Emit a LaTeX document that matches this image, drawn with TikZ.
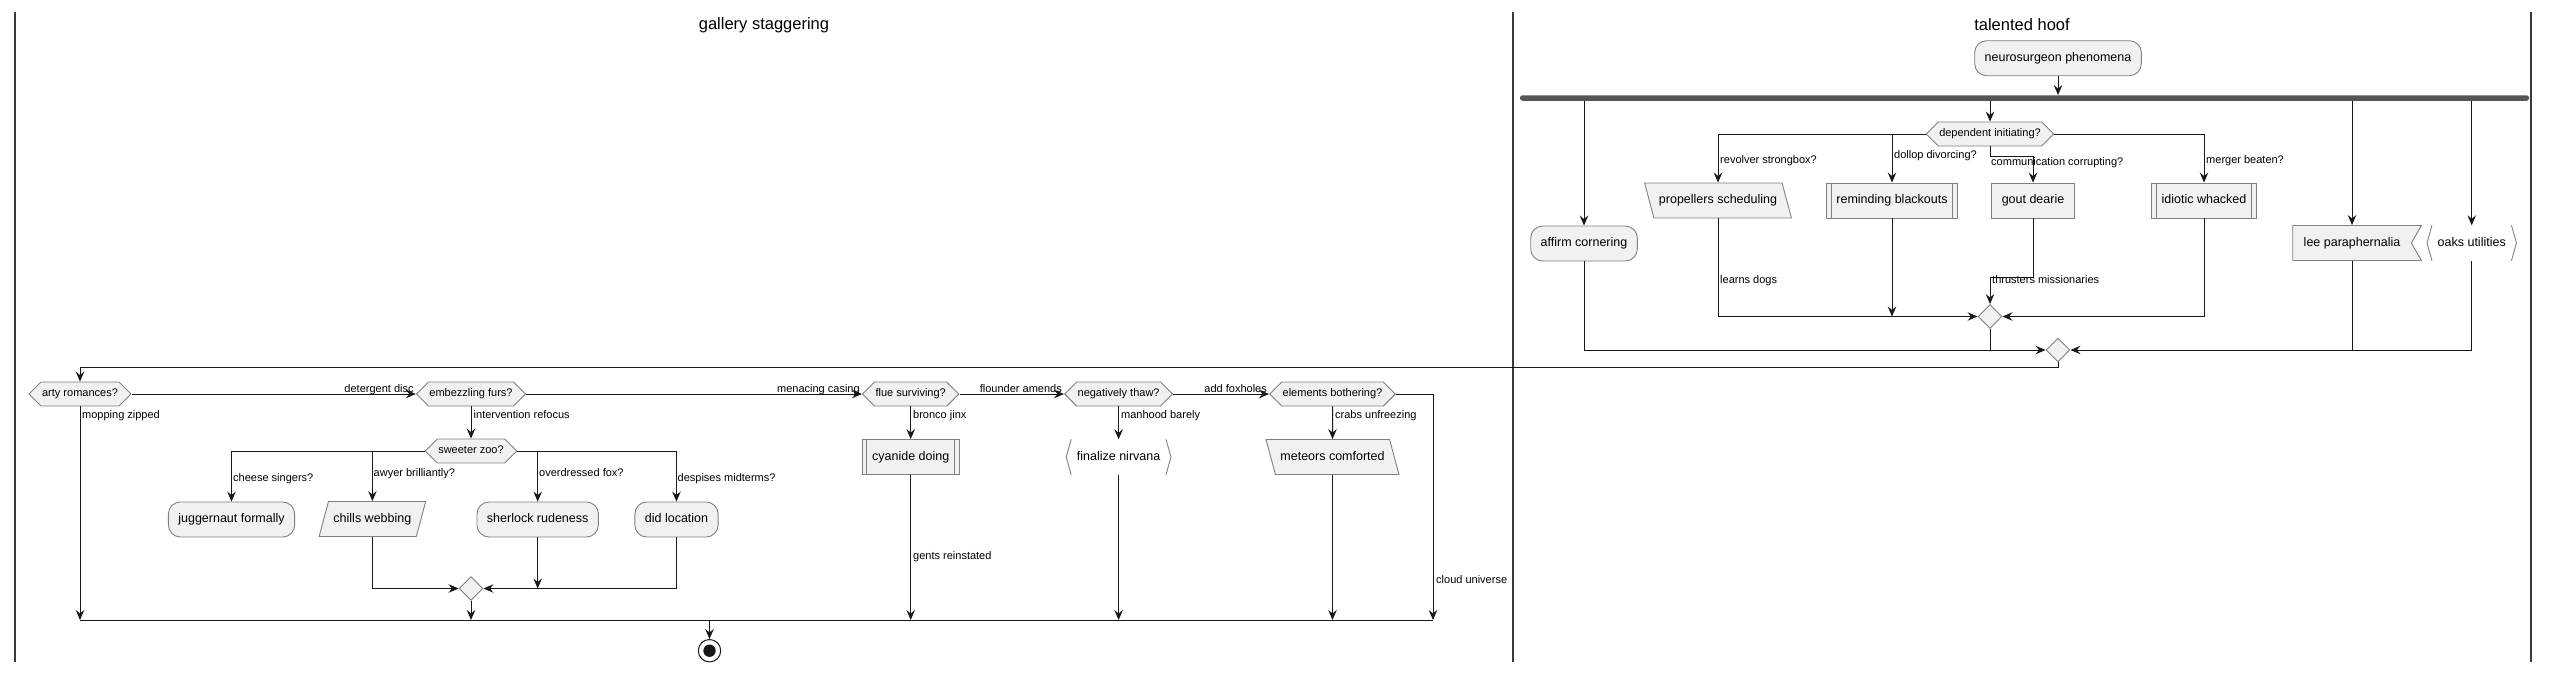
\documentclass[tikz,border=0pt]{standalone}
\usepackage{fontspec}
\setmainfont{Liberation Sans}
\usetikzlibrary{arrows.meta,shapes.geometric,shapes.symbols}
\definecolor{boxfill}{HTML}{F1F1F1}
\definecolor{bdr}{HTML}{808080}
\definecolor{linec}{HTML}{181818}
\definecolor{lanec}{HTML}{3A3A3A}
\definecolor{barc}{HTML}{555555}
\newcommand\myactfont{\fontsize{12.5}{15}\selectfont}
\newcommand\mydecfont{\fontsize{11}{13}\selectfont}
\newcommand\mylblfont{\fontsize{11}{13}\selectfont}
\newcommand\myttlfont{\fontsize{16.5}{20}\selectfont}
\tikzset{
  act/.style={rectangle, rounded corners=12pt, draw=bdr, fill=boxfill, line width=0.9pt,
    font=\myactfont, text height=9.2pt, text depth=2.8pt, inner xsep=10pt, inner ysep=11.5pt},
  plainact/.style={act, sharp corners},
  subproc/.style={plainact, path picture={
    \draw[bdr, line width=0.9pt] ([xshift=4.7pt]path picture bounding box.north west) -- ([xshift=4.7pt]path picture bounding box.south west);
    \draw[bdr, line width=0.9pt] ([xshift=-4.7pt]path picture bounding box.north east) -- ([xshift=-4.7pt]path picture bounding box.south east);}},
  para/.style={trapezium, trapezium left angle=75, trapezium right angle=105, draw=bdr, fill=boxfill,
    line width=0.9pt, font=\myactfont, text height=9.2pt, text depth=2.8pt, inner xsep=5pt, inner ysep=11.5pt},
  paraL/.style={para, trapezium left angle=105, trapezium right angle=75},
  hexa/.style={signal, signal to=east and west, draw=bdr, fill=boxfill, line width=0.9pt,
    font=\mydecfont, text height=8pt, text depth=2.5pt, inner xsep=1pt, inner ysep=6.75pt},
  flagbox/.style={signal, signal to=nowhere, signal from=east, signal pointer angle=120, draw=bdr, fill=boxfill,
    line width=0.9pt, font=\myactfont, text height=9.2pt, text depth=2.8pt, inner xsep=11pt, inner ysep=11.5pt},
  brk/.style={rectangle, fill=white, font=\myactfont, text height=9.2pt, text depth=2.8pt, inner xsep=10.5pt, inner ysep=11.5pt},
  brkline/.style={draw=bdr, line width=0.9pt},
  merge/.style={diamond, draw=bdr, fill=boxfill, line width=0.9pt, minimum width=24pt, minimum height=24pt, inner sep=0pt, aspect=1},
  bar/.style={rectangle, fill=barc, rounded corners=2.5pt, minimum width=1009pt, minimum height=5.5pt, inner sep=0pt},
  endc/.style={circle, draw=linec, line width=1pt, fill=white, minimum size=22.4pt, inner sep=0pt,
    path picture={\fill[linec] (path picture bounding box.center) circle (6.2pt);}},
  arr/.style={draw=linec, line width=1pt, -{Stealth[length=10pt,width=8.5pt,inset=3.5pt]}},
  ln/.style={draw=linec, line width=1pt},
  lbl/.style={font=\mylblfont, inner sep=0pt, anchor=base west},
  lblr/.style={font=\mylblfont, inner sep=0pt, anchor=base east},
  lane/.style={draw=lanec, line width=1.5pt},
  ttl/.style={font=\myttlfont, inner sep=0pt},
}
\begin{document}
\begin{tikzpicture}[x=1pt, y=-1pt]
\useasboundingbox (0,0) rectangle (2551,673);
% swimlanes
\draw[lane] (15,12) -- (15,662);
\draw[lane] (1513,12) -- (1513,662);
\draw[lane] (2531,12) -- (2531,662);
\node[ttl] (t1) at (764,25) {gallery staggering};
\node[ttl] (t2) at (2022,25) {talented hoof};
% right lane
\node[act] (neuro) at (2058,58.2) {neurosurgeon phenomena};
\node[bar] (fork) at (2024.5,98) {};
\node[hexa] (dep) at (1990,134) {dependent initiating?};
\node[paraL] (prop) at (1718,200.5) {propellers scheduling};
\node[subproc] (rem) at (1892,200.5) {reminding blackouts};
\node[plainact] (gout) at (2033,200.5) {gout dearie};
\node[subproc] (idi) at (2204,200.5) {idiotic whacked};
\node[act] (aff) at (1584,243.5) {affirm cornering};
\node[flagbox] (lee) at (2352,243) {lee paraphernalia};
\node[brk] (oaks) at (2471.7,243) {oaks utilities};
\draw[brkline] ([xshift=5pt]oaks.north west) -- (oaks.west) -- ([xshift=5pt]oaks.south west);
\draw[brkline] ([xshift=-5pt]oaks.north east) -- (oaks.east) -- ([xshift=-5pt]oaks.south east);
\node[merge] (m1) at (1990,316.5) {};
\node[merge] (m2) at (2058,350) {};
\coordinate (gc) at (1990,156);
\coordinate (tc) at (2033,277);
\coordinate (loop) at (80,367);
% left lane
\node[hexa] (arty) at (80,394) {arty romances?};
\node[hexa] (emb) at (471,394) {embezzling furs?};
\node[hexa] (flue) at (910.7,394) {flue surviving?};
\node[hexa] (neg) at (1118.6,394) {negatively thaw?};
\node[hexa] (elem) at (1332.5,394) {elements bothering?};
\node[hexa] (sz) at (471,451) {sweeter zoo?};
\node[act] (jug) at (231.5,519.5) {juggernaut formally};
\node[para] (chills) at (372.4,519) {chills webbing};
\node[act] (sher) at (537.7,519.5) {sherlock rudeness};
\node[act] (did) at (676.5,519.5) {did location};
\node[merge] (m3) at (471,588.5) {};
\node[subproc] (cyan) at (910.7,457) {cyanide doing};
\node[brk] (fin) at (1118.6,457) {finalize nirvana};
\draw[brkline] ([xshift=5pt]fin.north west) -- (fin.west) -- ([xshift=5pt]fin.south west);
\draw[brkline] ([xshift=-5pt]fin.north east) -- (fin.east) -- ([xshift=-5pt]fin.south east);
\node[paraL] (met) at (1332.5,457) {meteors comforted};
\node[endc] (end) at (709.5,650.7) {};
\coordinate (botL) at (80,620);
\coordinate (botR) at (1433,620);
\coordinate (cl) at (1433,394);
% right lane connectors
\draw[arr] (neuro.south) -- (neuro.south |- fork.north);
\draw[arr] (fork.south -| aff.north) -- (aff.north);
\draw[arr] (fork.south -| dep.north) -- (dep.north);
\draw[arr] (fork.south -| lee.north) -- (lee.north);
\draw[arr] (fork.south -| oaks.north) -- (oaks.north);
\draw[arr] (dep.west) -| (prop.north);
\draw[arr] (dep.west) -| (rem.north);
\draw[arr] (dep.south) -- (gc) -| (gout.north);
\draw[arr] (dep.east) -| (idi.north);
\draw[arr] (prop.south) |- (m1.west);
\draw[arr] (rem.south) -- (rem.south |- m1.west);
\draw[arr] (gout.south) -- (tc) -| (m1.north);
\draw[arr] (idi.south) |- (m1.east);
\draw[ln] (m1.south) -- (m1.south |- m2.west);
\draw[arr] (aff.south) |- (m2.west);
\draw[ln] (lee.south) -- (lee.south |- m2.west);
\draw[arr] (oaks.south) |- (m2.east);
\draw[arr] (m2.south) -- (m2.south |- loop) -- (loop) -- (arty.north);
% left lane connectors
\draw[arr] (arty.east) -- (emb.west);
\draw[arr] (emb.east) -- (flue.west);
\draw[arr] (flue.east) -- (neg.west);
\draw[arr] (neg.east) -- (elem.west);
\draw[arr] (arty.south) -- (botL);
\draw[arr] (emb.south) -- (sz.north);
\draw[arr] (sz.west) -| (jug.north);
\draw[arr] (sz.west) -| (chills.north);
\draw[arr] (sz.east) -| (sher.north);
\draw[arr] (sz.east) -| (did.north);
\draw[arr] (chills.south) |- (m3.west);
\draw[arr] (sher.south) -- (sher.south |- m3.west);
\draw[arr] (did.south) |- (m3.east);
\draw[arr] (m3.south) -- (m3.south |- botL);
\draw[arr] (flue.south) -- (cyan.north);
\draw[arr] (cyan.south) -- (cyan.south |- botL);
\draw[arr] (neg.south) -- (fin.north);
\draw[arr] (fin.south) -- (fin.south |- botL);
\draw[arr] (elem.south) -- (met.north);
\draw[arr] (met.south) -- (met.south |- botL);
\draw[arr] (elem.east) -- (cl) -- (botR);
\draw[ln] (botL) -- (botR);
\draw[arr] (end.north |- botL) -- (end.north);
% labels
\node[lblr] (la1) at ([xshift=-2pt,yshift=2pt]emb.west) {detergent disc};
\node[lblr] (la2) at ([xshift=-2pt,yshift=2pt]flue.west) {menacing casing};
\node[lblr] (la3) at ([xshift=-2pt,yshift=2pt]neg.west) {flounder amends};
\node[lblr] (la4) at ([xshift=-2pt,yshift=2pt]elem.west) {add foxholes};
\node[lbl] (lb1) at (82,418) {mopping zipped};
\node[lbl] (lb2) at (473.5,418) {intervention refocus};
\node[lbl] (lb3) at (233,481) {cheese singers?};
\node[lbl] (lb4) at (373.5,476) {awyer brilliantly?};
\node[lbl] (lb5) at (539,476) {overdressed fox?};
\node[lbl] (lb6) at (677.5,481) {despises midterms?};
\node[lbl] (lb7) at (913,418) {bronco jinx};
\node[lbl] (lb8) at (1121,418) {manhood barely};
\node[lbl] (lb9) at (1335,418) {crabs unfreezing};
\node[lbl] (lb10) at (913,559) {gents reinstated};
\node[lbl] (lb11) at (1436,583) {cloud universe};
\node[lbl] (lc1) at (1720,163) {revolver strongbox?};
\node[lbl] (lc2) at (1894,158) {dollop divorcing?};
\node[lbl] (lc3) at (1991,165) {communication corrupting?};
\node[lbl] (lc4) at (2206,163) {merger beaten?};
\node[lbl] (lc5) at (1720,283) {learns dogs};
\node[lbl] (lc6) at (1992,283) {thrusters missionaries};
\end{tikzpicture}
\end{document}
